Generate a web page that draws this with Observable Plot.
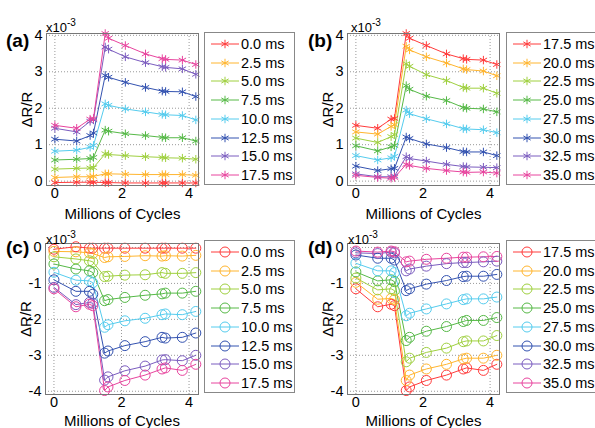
<!DOCTYPE html>
<html><head><meta charset="utf-8">
<script src="https://cdn.jsdelivr.net/npm/d3@7"></script>
<script src="https://cdn.jsdelivr.net/npm/@observablehq/plot@0.6"></script>
<style>
body{margin:0;background:#fff;}
#root{position:relative;width:595px;height:428px;overflow:hidden;font-family:"Liberation Sans",Arial,sans-serif;background:#fff;color:#000;}
.panel{position:absolute;}
.tag{position:absolute;font-weight:bold;font-size:19px;line-height:19px;}
.exp{position:absolute;font-size:13px;line-height:13px;}
.exp sup{font-size:10px;position:relative;top:-1px;}
.legend{position:absolute;border:1px solid #888;background:#fff;box-sizing:border-box;}
.entry{position:absolute;left:5px;height:14px;display:flex;align-items:center;font-size:14.5px;white-space:nowrap;}
.entry svg{margin-right:1px;}
g[aria-label="x-axis label"], g[aria-label="y-axis label"], g[aria-label="x-axis label"] text, g[aria-label="y-axis label"] text {font-size:15px !important;}
</style>
</head><body><div id="root"></div>
<script>
const cycles = [0, 0.65, 1.05, 1.15, 1.5, 1.6, 2.1, 2.7, 3.2, 3.3, 3.8, 4.2];
const colors = ["#ff3b3b","#ffb52e","#9fd03f","#56b947","#55ccee","#3352b0","#7b5cbf","#e8449e"];

const labelsA = ["0.0 ms","2.5 ms","5.0 ms","7.5 ms","10.0 ms","12.5 ms","15.0 ms","17.5 ms"];
const labelsB = ["17.5 ms","20.0 ms","22.5 ms","25.0 ms","27.5 ms","30.0 ms","32.5 ms","35.0 ms"];

const valuesA = [
  [-0.04,-0.03,-0.03,-0.03,-0.04,-0.04,-0.05,-0.05,-0.05,-0.05,-0.05,-0.05],
  [0.10,0.12,0.12,0.13,0.20,0.20,0.19,0.18,0.18,0.18,0.18,0.16],
  [0.33,0.35,0.36,0.37,0.75,0.73,0.70,0.67,0.65,0.64,0.63,0.60],
  [0.58,0.60,0.62,0.65,1.40,1.37,1.30,1.25,1.20,1.19,1.19,1.10],
  [0.82,0.85,0.93,0.98,2.12,2.08,1.98,1.90,1.83,1.82,1.80,1.68],
  [1.15,1.10,1.25,1.32,2.90,2.85,2.71,2.57,2.47,2.46,2.45,2.32],
  [1.45,1.35,1.64,1.68,3.68,3.62,3.41,3.25,3.14,3.12,3.08,2.93],
  [1.53,1.45,1.70,1.72,4.05,3.92,3.72,3.49,3.36,3.34,3.32,3.20]
];
const valuesB = [
  [1.53,1.45,1.70,1.72,4.05,3.92,3.72,3.49,3.36,3.34,3.32,3.20],
  [1.35,1.29,1.50,1.55,3.70,3.60,3.41,3.24,3.08,3.06,3.02,2.89],
  [1.18,1.06,1.22,1.28,3.22,3.15,2.92,2.76,2.57,2.55,2.55,2.41],
  [0.97,0.83,0.94,0.98,2.62,2.52,2.33,2.21,2.02,2.00,1.98,1.90],
  [0.70,0.58,0.64,0.68,1.95,1.85,1.71,1.57,1.44,1.43,1.41,1.33],
  [0.41,0.29,0.34,0.35,1.21,1.17,1.02,0.92,0.81,0.80,0.80,0.70],
  [0.20,0.12,0.12,0.14,0.67,0.62,0.55,0.46,0.40,0.39,0.38,0.37],
  [0.16,0.10,0.08,0.10,0.46,0.43,0.35,0.29,0.25,0.24,0.25,0.22]
];
const valuesC = [
  [-0.05,0.02,-0.02,-0.02,-0.02,-0.02,-0.02,-0.02,-0.02,-0.02,-0.02,-0.02],
  [-0.11,-0.12,-0.15,-0.17,-0.28,-0.26,-0.25,-0.23,-0.24,-0.23,-0.24,-0.22],
  [-0.26,-0.32,-0.37,-0.40,-0.81,-0.80,-0.77,-0.76,-0.70,-0.72,-0.72,-0.70],
  [-0.46,-0.60,-0.65,-0.70,-1.48,-1.45,-1.39,-1.33,-1.29,-1.27,-1.27,-1.22],
  [-0.69,-0.91,-0.93,-0.98,-2.22,-2.15,-2.04,-1.97,-1.87,-1.85,-1.87,-1.78],
  [-0.90,-1.22,-1.22,-1.30,-2.94,-2.88,-2.73,-2.62,-2.50,-2.52,-2.50,-2.38],
  [-1.11,-1.59,-1.53,-1.55,-3.69,-3.60,-3.43,-3.30,-3.13,-3.12,-3.15,-3.00],
  [-1.15,-1.65,-1.58,-1.62,-3.98,-3.88,-3.70,-3.55,-3.38,-3.35,-3.42,-3.25]
];
const valuesD = [
  [-1.15,-1.65,-1.58,-1.62,-3.98,-3.88,-3.70,-3.55,-3.38,-3.35,-3.42,-3.25],
  [-0.97,-1.44,-1.42,-1.45,-3.70,-3.55,-3.38,-3.25,-3.10,-3.08,-3.08,-3.00],
  [-0.85,-1.18,-1.15,-1.20,-3.18,-3.08,-2.92,-2.80,-2.62,-2.60,-2.60,-2.45],
  [-0.68,-0.93,-0.90,-0.95,-2.59,-2.50,-2.33,-2.20,-2.06,-2.03,-2.03,-1.95],
  [-0.44,-0.65,-0.65,-0.70,-1.90,-1.83,-1.71,-1.57,-1.45,-1.43,-1.43,-1.38],
  [-0.21,-0.30,-0.30,-0.35,-1.20,-1.15,-1.02,-0.92,-0.81,-0.80,-0.80,-0.75],
  [-0.15,-0.17,-0.13,-0.15,-0.65,-0.60,-0.52,-0.45,-0.42,-0.42,-0.40,-0.38],
  [-0.10,-0.13,-0.10,-0.12,-0.40,-0.38,-0.33,-0.30,-0.27,-0.27,-0.26,-0.25]
];
const xTicks = [0, 2, 4];
const yTicksPos = [0, 1, 2, 3, 4];
const yTicksNeg = [0, -1, -2, -3, -4];
const xTitle = "Millions of Cycles";
const yTitle = "ΔR/R";

const root = document.getElementById("root");

function makePanel(cfg) {
  const data = [];
  cfg.values.forEach((arr, i) => arr.forEach((v, j) => data.push({s: cfg.labels[i], x: cycles[j], y: v})));
  const svg = Plot.plot({
    width: 200, height: cfg.h,
    marginLeft: cfg.ml, marginRight: cfg.mr, marginTop: cfg.mt, marginBottom: cfg.mb,
    style: {background: "transparent", overflow: "visible", fontFamily: "'Liberation Sans', Arial, sans-serif", fontSize: "14.5px", color: "#000"},
    x: {domain: [-0.25, 4.28], ticks: xTicks},
    y: {domain: cfg.ydomain, ticks: cfg.yticks},
    color: {type: "ordinal", domain: cfg.labels, range: colors},
    marks: [
      Plot.gridX(xTicks, {stroke: "#999", strokeOpacity: 1, strokeDasharray: "1,2"}),
      Plot.gridY(cfg.yticks, {stroke: "#999", strokeOpacity: 1, strokeDasharray: "1,2"}),
      Plot.line(data, {x: "x", y: "y", z: "s", stroke: "s", strokeWidth: 1}),
      Plot.dot(data, {x: "x", y: "y", stroke: "s", symbol: cfg.symbol, r: cfg.r, strokeWidth: 1, fill: "none"}),
      Plot.frame({stroke: "#777"}),
      Plot.axisX(xTicks, {tickSize: 0, tickPadding: 2, fontSize: 14.5, label: xTitle, labelAnchor: "center", labelOffset: cfg.xlo, labelArrow: "none"}),
      Plot.axisY(cfg.yticks, {tickSize: 0, tickPadding: 4, fontSize: 14.5, tickFormat: d => String(d), label: yTitle, labelAnchor: "center", labelOffset: 25, labelArrow: "none"})
    ]
  });
  const wrap = document.createElement("div");
  wrap.className = "panel";
  wrap.style.left = cfg.left + "px";
  wrap.style.top = cfg.top + "px";
  wrap.appendChild(svg);
  root.appendChild(wrap);

  const tag = document.createElement("div");
  tag.className = "tag";
  tag.textContent = cfg.tag;
  tag.style.left = cfg.tagX + "px";
  tag.style.top = cfg.tagY + "px";
  root.appendChild(tag);

  const ex = document.createElement("div");
  ex.className = "exp";
  ex.innerHTML = "x10<sup>-3</sup>";
  ex.style.left = cfg.expX + "px";
  ex.style.top = cfg.expY + "px";
  root.appendChild(ex);

  const lg = document.createElement("div");
  lg.className = "legend";
  lg.style.left = cfg.lgX + "px";
  lg.style.top = cfg.lgY + "px";
  lg.style.width = cfg.lgW + "px";
  lg.style.height = "153px";
  const sym = cfg.symbol === "asterisk" ? d3.symbolAsterisk : d3.symbolCircle;
  const path = d3.symbol(sym, Math.PI * cfg.r * cfg.r)();
  cfg.labels.forEach((lab, i) => {
    const e = document.createElement("div");
    e.className = "entry";
    e.style.top = (4 + i * 18.7) + "px";
    e.innerHTML = `<svg width="30" height="14"><line x1="1" x2="29" y1="7" y2="7" stroke="${colors[i]}" stroke-width="1"/><path d="${path}" transform="translate(15,7)" fill="none" stroke="${colors[i]}" stroke-width="1"/></svg><span>${lab}</span>`;
    lg.appendChild(e);
  });
  root.appendChild(lg);
}

makePanel({values: valuesA, labels: labelsA, ydomain: [-0.12, 4.05], yticks: yTicksPos, symbol: "asterisk", r: 4,
  left: 0, top: 0, h: 220, ml: 46, mr: 2, mt: 33, mb: 35, xlo: 33,
  tag: "(a)", tagX: 6, tagY: 31, expX: 46, expY: 17, lgX: 204, lgY: 32, lgW: 91});
makePanel({values: valuesB, labels: labelsB, ydomain: [-0.12, 4.05], yticks: yTicksPos, symbol: "asterisk", r: 4,
  left: 301, top: 0, h: 220, ml: 46, mr: 2, mt: 33, mb: 35, xlo: 33,
  tag: "(b)", tagX: 308, tagY: 31, expX: 351, expY: 17, lgX: 506, lgY: 32, lgW: 100});
makePanel({values: valuesC, labels: labelsA, ydomain: [-4.09, 0.11], yticks: yTicksNeg, symbol: "circle", r: 5,
  left: 0, top: 222, h: 206, ml: 45, mr: 2, mt: 21, mb: 34, xlo: 31,
  tag: "(c)", tagX: 6, tagY: 238, expX: 46, expY: 229, lgX: 204, lgY: 240, lgW: 91});
makePanel({values: valuesD, labels: labelsB, ydomain: [-4.09, 0.11], yticks: yTicksNeg, symbol: "circle", r: 5,
  left: 301, top: 222, h: 206, ml: 46, mr: 2, mt: 21, mb: 34, xlo: 31,
  tag: "(d)", tagX: 308, tagY: 238, expX: 348, expY: 229, lgX: 506, lgY: 240, lgW: 100});
</script>
</body></html>
